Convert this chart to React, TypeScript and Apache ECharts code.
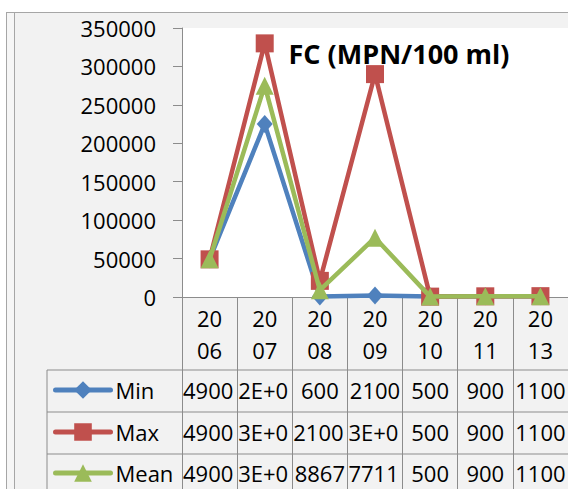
import React, { useEffect, useRef } from "react";
import * as echarts from "echarts";

const categories = ["2006", "2007", "2008", "2009", "2010", "2011", "2013"];
const minValues = [49000, 225000, 600, 2100, 500, 900, 1100];
const maxValues = [49000, 330000, 21000, 290000, 500, 900, 1100];
const meanValues = [49000, 275000, 8867, 77111, 500, 900, 1100];
const seriesNames = ["Min", "Max", "Mean"];
const seriesColors = ["#4F81BD", "#C0504D", "#9BBB59"];
const seriesSymbols = ["diamond", "rect", "triangle"];
const yMax = 350000;
const yInterval = 50000;

const FONT = "'Open Sans', 'Noto Sans', sans-serif";
const GRID_COLOR = "#8c8c8c";

function excelFormat(v: number): string {
  if (v >= 100000) {
    const s = v.toExponential(0); // e.g. 2e+5
    const [m, e] = s.split("e+");
    return `${m}E+${e.padStart(2, "0")}`;
  }
  return String(Math.round(v));
}

export default function App() {
  const ref = useRef<HTMLDivElement>(null);
  useEffect(() => {
    document.body.style.margin = "0";
    const chart = echarts.init(ref.current!, null, { renderer: "svg" });
    const allSeries = [minValues, maxValues, meanValues];
    const rowY = [390, 432, 473];
    chart.setOption({
      animation: false,
      textStyle: { fontFamily: FONT },
      title: {
        text: "FC (MPN/100 ml)",
        left: 394,
        top: 35,
        textAlign: "center",
        textStyle: { fontFamily: FONT, fontSize: 27, fontWeight: "bold", color: "#000" },
      },
      legend: seriesNames.map((name, i) => ({
        orient: "vertical",
        left: 53,
        top: rowY[i] - 11,
        padding: 0,
        itemWidth: 55,
        itemHeight: 22,
        textStyle: { fontFamily: FONT, fontSize: 22, lineHeight: 22, color: "#000", padding: [0, 0, 0, 0] },
        lineStyle: { width: 5, cap: "round" },
        data: [name],
      })),
      grid: {
        left: 182,
        top: 28,
        right: 0,
        bottom: 192,
        show: true,
        backgroundColor: "#ffffff",
        borderWidth: 0,
      },
      xAxis: {
        type: "category",
        data: categories,
        boundaryGap: true,
        axisLine: { lineStyle: { color: GRID_COLOR, width: 1 } },
        axisTick: { show: true, interval: 0, length: 210, lineStyle: { color: GRID_COLOR } },
        axisLabel: {
          interval: 0,
          margin: 5,
          fontFamily: FONT,
          fontSize: 22,
          lineHeight: 32,
          color: "#000",
          formatter: (v: string) => v.slice(0, 2) + "\n" + v.slice(2),
        },
        splitLine: { show: false },
      },
      yAxis: {
        type: "value",
        min: 0,
        max: yMax,
        interval: yInterval,
        axisLine: { show: true, lineStyle: { color: GRID_COLOR, width: 1 } },
        axisTick: { show: true, inside: false, length: 9, lineStyle: { color: GRID_COLOR } },
        axisLabel: {
          margin: 26,
          fontFamily: FONT,
          fontSize: 22,
          color: "#000",
          formatter: (v: number) => String(v),
        },
        splitLine: { show: false },
      },
      series: seriesNames.map((name, i) => ({
        name,
        type: "line",
        data: allSeries[i],
        symbol: seriesSymbols[i],
        symbolSize: i === 1 ? 18 : i === 0 ? [16, 18] : [18, 18],
        showAllSymbol: true,
        lineStyle: { color: seriesColors[i], width: 4.5 },
        itemStyle: { color: seriesColors[i] },
        z: 2 + i,
      })),
    });

    // Data table built from the series values
    const xs = categories.map((_, i) => chart.convertToPixel({ xAxisIndex: 0 }, i) as number);
    const cellW = xs.length > 1 ? xs[1] - xs[0] : 55;
    const graphics: any[] = [];
    [370, 412, 454].forEach((y) => {
      graphics.push({
        type: "line",
        shape: { x1: 47, y1: y, x2: 568, y2: y },
        style: { stroke: GRID_COLOR, lineWidth: 1 },
        silent: true,
      });
    });
    graphics.push({
      type: "line",
      shape: { x1: 47, y1: 370, x2: 47, y2: 489 },
      style: { stroke: GRID_COLOR, lineWidth: 1 },
      silent: true,
    });
    allSeries.forEach((vals, r) => {
      vals.forEach((v, c) => {
        const txt = excelFormat(v);
        const overflow = txt.length >= 5;
        const left = xs[c] - cellW / 2;
        graphics.push({
          type: "text",
          x: overflow ? left + 1 : xs[c],
          y: rowY[r],
          silent: true,
          style: {
            text: txt,
            fontFamily: FONT,
            fontSize: 22,
            fill: "#000",
            align: overflow ? "left" : "center",
            verticalAlign: "middle",
            width: cellW - 2,
            overflow: "truncate",
            ellipsis: "",
          },
        });
      });
    });
    chart.setOption({ graphic: graphics });
    return () => chart.dispose();
  }, []);

  return (
    <div style={{ position: "relative", width: 568, height: 489, background: "#ffffff", overflow: "hidden" }}>
      <div
        style={{
          position: "absolute",
          left: 6,
          top: 12,
          width: 600,
          height: 600,
          background: "#f6f6f6",
          border: "1px solid #a6a6a6",
        }}
      />
      <div
        style={{
          position: "absolute",
          left: 14,
          top: 12,
          width: 600,
          height: 600,
          background: "#f2f2f2",
          border: "1px solid #a6a6a6",
        }}
      />
      <div ref={ref} style={{ position: "absolute", left: 0, top: 0, width: 568, height: 489 }} />
    </div>
  );
}
